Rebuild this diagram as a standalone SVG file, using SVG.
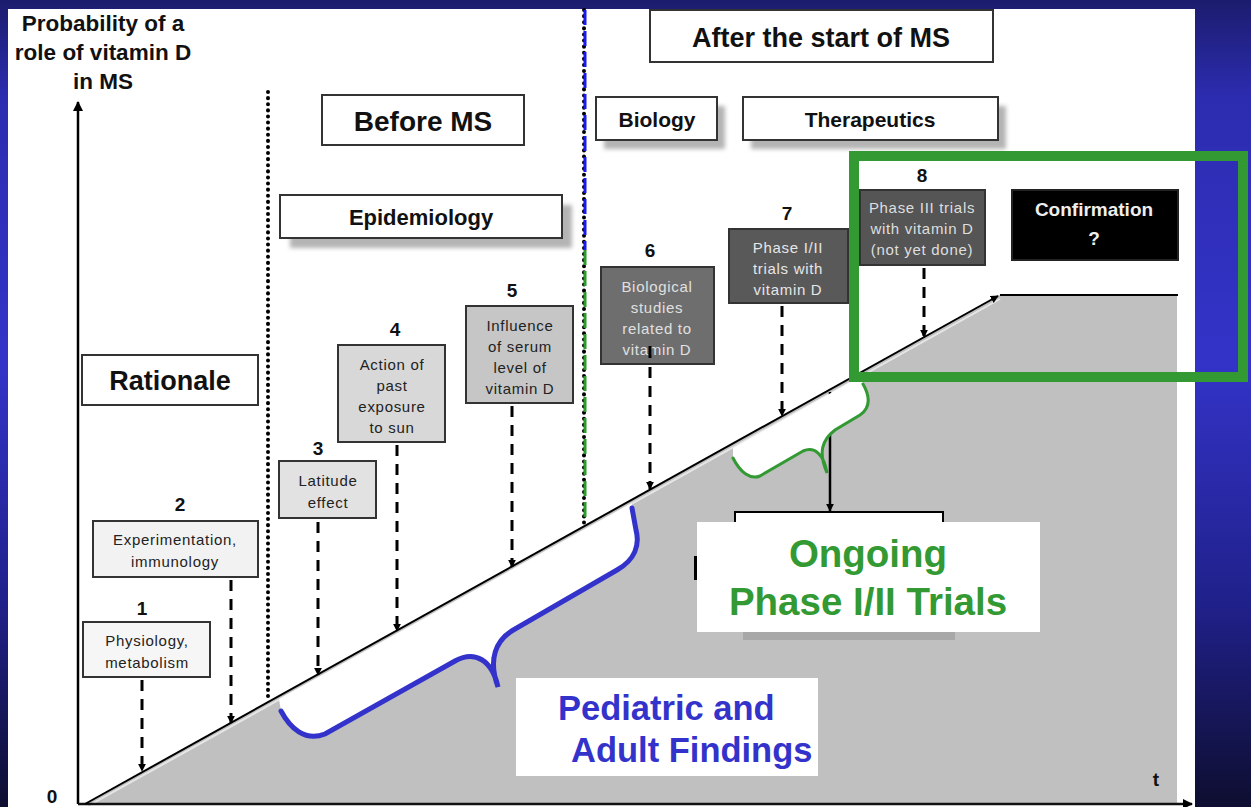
<svg xmlns="http://www.w3.org/2000/svg" width="1251" height="807" viewBox="0 0 1251 807">
<defs>
  <linearGradient id="bg" x1="0" y1="0" x2="0" y2="1">
    <stop offset="0" stop-color="#1c1c6e"/>
    <stop offset="0.12" stop-color="#2c2cb0"/>
    <stop offset="0.45" stop-color="#3333c8"/>
    <stop offset="0.75" stop-color="#20208a"/>
    <stop offset="1" stop-color="#0e0e30"/>
  </linearGradient>
  <filter id="blur" x="-10%" y="-30%" width="120%" height="160%"><feGaussianBlur stdDeviation="2"/></filter>
  <marker id="ah" viewBox="0 0 10 10" refX="9" refY="5" markerWidth="8" markerHeight="8" markerUnits="userSpaceOnUse" orient="auto">
    <path d="M0,0 L10,5 L0,10 Z" fill="#000"/>
  </marker>
  <marker id="ah2" viewBox="0 0 10 10" refX="9" refY="5" markerWidth="10" markerHeight="10" markerUnits="userSpaceOnUse" orient="auto">
    <path d="M0,0 L10,5 L0,10 Z" fill="#000"/>
  </marker>
  <style>
    .ttl{font-family:"Liberation Sans",Arial,sans-serif;font-weight:bold;fill:#111;text-anchor:middle}
    .num{font-family:"Liberation Sans",Arial,sans-serif;font-weight:bold;font-size:19px;fill:#111;text-anchor:middle}
    .bt{font-family:"Liberation Sans",Arial,sans-serif;font-size:15px;letter-spacing:0.7px;text-anchor:middle}
    .hdr{fill:#fff;stroke:#333;stroke-width:2}
    .shd{fill:#b4b4b4;filter:url(#blur)}
    .box{stroke:#333;stroke-width:2}
    .dash{stroke:#000;stroke-width:3;stroke-dasharray:11 8;fill:none}
    .dot{stroke:#000;stroke-width:4;stroke-dasharray:0.1 6;stroke-linecap:round;fill:none}
  </style>
</defs>

<rect x="0" y="0" width="1251" height="807" fill="url(#bg)"/>
<rect x="8" y="9" width="1187" height="798" fill="#fff"/>

<!-- area under curve -->
<g id="area">
  <polygon points="85,804 1000,295 1177,295 1177,804" fill="#c0c0c0"/>
  <line x1="88" y1="806" x2="1000" y2="299" stroke="#e6e6e6" stroke-width="2"/>
</g>

<!-- axes and separators -->
<g id="axes">
  <line x1="78" y1="804" x2="78" y2="102" stroke="#000" stroke-width="2.5" marker-end="url(#ah2)"/>
  <line x1="78" y1="804" x2="1192" y2="804" stroke="#111" stroke-width="2.5" marker-end="url(#ah2)"/>
  <line x1="85" y1="804" x2="998" y2="296" stroke="#000" stroke-width="2" marker-end="url(#ah)"/>
  <line x1="1000" y1="295" x2="1178" y2="295" stroke="#000" stroke-width="2"/>
  <text x="52" y="803" class="num" font-size="18">0</text>
  <text x="1156" y="786" class="num">t</text>
  <text class="ttl" font-size="22.5"><tspan x="103" y="31">Probability of a</tspan><tspan x="103" y="60">role of vitamin D</tspan><tspan x="103" y="89">in MS</tspan></text>
  <line x1="268" y1="92" x2="268" y2="697" class="dot"/>
  <line x1="584" y1="10" x2="584" y2="525" class="dot"/>
  <line x1="585" y1="10" x2="585" y2="250" stroke="#1a1aee" stroke-width="3" stroke-dasharray="15 6"/>
  <line x1="585" y1="250" x2="585" y2="520" stroke="#2a9a2a" stroke-width="3" stroke-dasharray="15 6"/>
</g>

<!-- header boxes -->
<g id="rationale"><rect x="82" y="355" width="176" height="50" class="hdr"/><text x="170" y="390" class="ttl" font-size="27">Rationale</text></g>
<g id="before-ms"><rect x="322" y="95" width="202" height="50" class="hdr"/><text x="423" y="131" class="ttl" font-size="28">Before MS</text></g>
<g id="epidemiology"><rect x="290" y="205" width="282" height="43" class="shd"/><rect x="280" y="195" width="282" height="43" class="hdr"/><text x="421" y="225" class="ttl" font-size="22">Epidemiology</text></g>
<g id="after-ms"><rect x="650" y="10" width="343" height="52" class="hdr"/><text x="821" y="47" class="ttl" font-size="27">After the start of MS</text></g>
<g id="biology"><rect x="604" y="106" width="121" height="43" class="shd"/><rect x="596" y="97" width="121" height="43" class="hdr"/><text x="657" y="127" class="ttl" font-size="21">Biology</text></g>
<g id="therapeutics"><rect x="751" y="106" width="255" height="43" class="shd"/><rect x="743" y="97" width="255" height="43" class="hdr"/><text x="870" y="127" class="ttl" font-size="21">Therapeutics</text></g>

<!-- connectors -->
<g id="connectors">
  <line x1="142" y1="680" x2="142" y2="771" class="dash" marker-end="url(#ah)"/>
  <line x1="231" y1="580" x2="231" y2="723" class="dash" marker-end="url(#ah)"/>
  <line x1="318" y1="522" x2="318" y2="675" class="dash" marker-end="url(#ah)"/>
  <line x1="397" y1="445" x2="397" y2="631" class="dash" marker-end="url(#ah)"/>
  <line x1="512" y1="406" x2="512" y2="567" class="dash" marker-end="url(#ah)"/>
  <line x1="650" y1="348" x2="650" y2="489" class="dash" marker-end="url(#ah)"/>
  <line x1="782" y1="306" x2="782" y2="416" class="dash" marker-end="url(#ah)"/>
  <line x1="924" y1="268" x2="924" y2="337" class="dash" marker-end="url(#ah)"/>
  <line x1="830" y1="392" x2="830" y2="511" stroke="#000" stroke-width="2.5" marker-end="url(#ah)"/>
</g>

<!-- numbered boxes -->
<g id="n1"><text x="142" y="615" class="num">1</text><rect x="83" y="622" width="127" height="55" class="box" fill="#f6f6f6"/><text class="bt" fill="#222"><tspan x="147" y="646">Physiology,</tspan><tspan x="147" y="668">metabolism</tspan></text></g>
<g id="n2"><text x="180" y="511" class="num">2</text><rect x="93" y="521" width="165" height="56" class="box" fill="#f2f2f2"/><text class="bt" fill="#222"><tspan x="175" y="545">Experimentation,</tspan><tspan x="175" y="567">immunology</tspan></text></g>
<g id="n3"><text x="318" y="455" class="num">3</text><rect x="279" y="461" width="97" height="57" class="box" fill="#e2e2e2"/><text class="bt" fill="#222"><tspan x="328" y="486">Latitude</tspan><tspan x="328" y="508">effect</tspan></text></g>
<g id="n4"><text x="395" y="336" class="num">4</text><rect x="338" y="345" width="107" height="97" class="box" fill="#d8d8d8"/><text class="bt" fill="#222"><tspan x="392" y="370">Action of</tspan><tspan x="392" y="391">past</tspan><tspan x="392" y="412">exposure</tspan><tspan x="392" y="433">to sun</tspan></text></g>
<g id="n5"><text x="512" y="297" class="num">5</text><rect x="466" y="306" width="107" height="97" class="box" fill="#c6c6c6"/><text class="bt" fill="#222"><tspan x="520" y="331">Influence</tspan><tspan x="520" y="352">of serum</tspan><tspan x="520" y="373">level of</tspan><tspan x="520" y="394">vitamin D</tspan></text></g>
<g id="n6"><text x="650" y="257" class="num">6</text><rect x="601" y="267" width="113" height="97" class="box" fill="#6e6e6e"/><text class="bt" fill="#e0e0e0"><tspan x="657" y="292">Biological</tspan><tspan x="657" y="313">studies</tspan><tspan x="657" y="334">related to</tspan><tspan x="657" y="355">vitamin D</tspan></text><line x1="650" y1="346" x2="650" y2="358" stroke="#000" stroke-width="3"/></g>
<g id="n7"><text x="787" y="220" class="num">7</text><rect x="729" y="229" width="119" height="74" class="box" fill="#595959"/><text class="bt" fill="#e6e6e6"><tspan x="788" y="253">Phase I/II</tspan><tspan x="788" y="274">trials with</tspan><tspan x="788" y="295">vitamin D</tspan></text></g>
<g id="n8"><text x="922" y="182" class="num">8</text><rect x="860" y="190" width="125" height="75" class="box" fill="#555"/><text class="bt" fill="#dedede" font-size="14.5" letter-spacing="0.2"><tspan x="922" y="213">Phase III trials</tspan><tspan x="922" y="234">with vitamin D</tspan><tspan x="922" y="255">(not yet done)</tspan></text></g>
<g id="confirmation"><rect x="1012" y="190" width="166" height="70" fill="#000" stroke="#222" stroke-width="2"/><text class="ttl" font-size="19" style="fill:#eee"><tspan x="1094" y="216">Confirmation</tspan><tspan x="1094" y="245">?</tspan></text></g>

<!-- covered box under Ongoing label -->
<g id="phase-box">
  <rect x="735" y="512" width="208" height="30" fill="#fff" stroke="#000" stroke-width="2"/>
  <rect x="743" y="628" width="212" height="12" fill="#a8a8a8"/>
  <rect x="694" y="556" width="4" height="24" fill="#000"/>
</g>

<!-- braces -->
<g id="blue-brace">
  <path d="M281,711 C290,728 305,742 325,734 L455,661 C475,650 492,660 498,687 C488,660 495,640 515,629 L617,570 C635,560 640,545 636,530 L632,508 L632,503 L279,699 Z" fill="#fff"/>
  <path d="M281,711 C290,728 305,742 325,734 L455,661 C475,650 492,660 498,687 C488,660 495,640 515,629 L617,570 C635,560 640,545 636,530 L632,508" fill="none" stroke="#3333cc" stroke-width="5" stroke-linecap="round"/>
</g>
<g id="green-brace">
  <path d="M733,458 C740,472 750,480 760,476 L803,451 C815,446 824,455 827,473 C818,452 822,440 835,430 L860,415 C870,408 871,398 863,384 L863,375 L733,448 Z" fill="#fff"/>
  <path d="M733,458 C740,472 750,480 760,476 L803,451 C815,446 824,455 827,473 C818,452 822,440 835,430 L860,415 C870,408 871,398 863,384" fill="none" stroke="#339933" stroke-width="3" stroke-linecap="round"/>
</g>

<g id="green-frame"><rect x="854" y="156" width="389" height="221" fill="none" stroke="#339933" stroke-width="10"/></g>

<g id="ongoing">
  <rect x="697" y="522" width="343" height="110" fill="#fff"/>
  <text class="ttl" font-size="38.5" style="fill:#339933"><tspan x="868" y="567">Ongoing</tspan><tspan x="868" y="615">Phase I/II Trials</tspan></text>
</g>
<g id="pediatric">
  <rect x="516" y="678" width="302" height="98" fill="#fff"/>
  <text font-family="'Liberation Sans',Arial,sans-serif" font-weight="bold" font-size="34.5" fill="#3333cc"><tspan x="558" y="720">Pediatric and</tspan><tspan x="571" y="762">Adult Findings</tspan></text>
</g>
</svg>
